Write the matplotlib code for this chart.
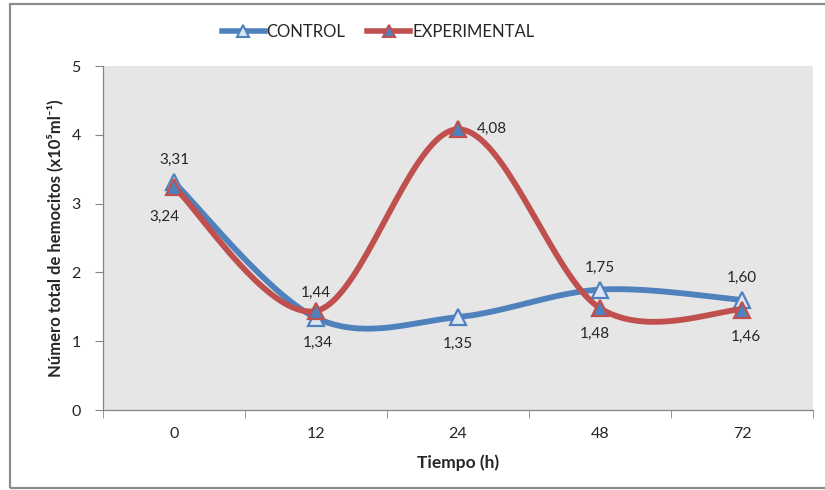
import numpy as np
import matplotlib
matplotlib.use("Agg")
import matplotlib.pyplot as plt
from matplotlib.lines import Line2D
from matplotlib.patches import Rectangle

categories = ["0", "12", "24", "48", "72"]
control = [3.31, 1.34, 1.35, 1.75, 1.60]
experimental = [3.24, 1.44, 4.08, 1.48, 1.46]
control_labels = ["3,31", "1,34", "1,35", "1,75", "1,60"]
experimental_labels = ["3,24", "1,44", "4,08", "1,48", "1,46"]
series_names = ["CONTROL", "EXPERIMENTAL"]

plt.rcParams['font.family'] = ['Lato', 'DejaVu Sans']

BLUE = '#4F81BD'
RED = '#C0504D'
TXT = '#262626'


def smooth(xs, ys, n=40):
    """Bezier-smoothed path through points (Excel-style smoothed line)."""
    P = np.column_stack([xs, ys]).astype(float)
    out = []
    m = len(P)
    for i in range(m - 1):
        p0 = P[i - 1] if i > 0 else P[i]
        p1 = P[i]
        p2 = P[i + 1]
        p3 = P[i + 2] if i + 2 < m else P[i + 1]
        c1 = p1 + (p2 - p0) / 6.0
        c2 = p2 - (p3 - p1) / 6.0
        t = np.linspace(0, 1, n)[:, None]
        seg = ((1 - t) ** 3) * p1 + 3 * ((1 - t) ** 2) * t * c1 + 3 * (1 - t) * t ** 2 * c2 + t ** 3 * p2
        out.append(seg if i == 0 else seg[1:])
    s = np.vstack(out)
    return s[:, 0], s[:, 1]


fig = plt.figure(figsize=(8.25, 4.9), dpi=100)
ax = fig.add_axes([103 / 825, 1 - 410 / 490, 710 / 825, 344 / 490])
ax.set_facecolor('#E6E6E6')

x = np.arange(len(categories))

sx, sy = smooth(x, control)
ax.plot(sx, sy, color=BLUE, lw=4.2, solid_capstyle='round', zorder=3)
ax.plot(x, control, ls='none', marker='^', ms=11, mfc='#DCE6F2', mec=BLUE, mew=1.6, zorder=4)

sx, sy = smooth(x, experimental)
ax.plot(sx, sy, color=RED, lw=4.2, solid_capstyle='round', zorder=5)
ax.plot(x, experimental, ls='none', marker='^', ms=11, mfc='#4F81BD', mec=RED, mew=1.6, zorder=6)

# data labels (offsets in pixels)
c_off = [(0, 22), (2, -25), (0, -27), (0, 22), (0, 22)]
e_off = [(-10, -30), (0, 18), (34, 0), (-5, -26), (4, -27)]
for i in range(len(x)):
    ax.annotate(control_labels[i], (x[i], control[i]), xytext=c_off[i], textcoords='offset pixels',
                ha='center', va='center', fontsize=11, color=TXT, zorder=8)
    ax.annotate(experimental_labels[i], (x[i], experimental[i]), xytext=e_off[i], textcoords='offset pixels',
                ha='center', va='center', fontsize=11, color=TXT, zorder=8)

ax.set_xlim(-0.5, len(categories) - 0.5)
ax.set_ylim(0, 5)
ax.set_yticks(range(0, 6))
ax.set_xticks(x)
ax.set_xticklabels(categories)
ax.set_xticks(np.arange(-0.5, len(categories)), minor=True)
ax.tick_params(axis='x', which='major', length=0, pad=12, labelsize=11.5, labelcolor=TXT)
ax.tick_params(axis='x', which='minor', length=6, color='#868686', direction='out')
ax.tick_params(axis='y', length=6, color='#868686', direction='out', pad=10, labelsize=11.5, labelcolor=TXT)

for s in ['top', 'right']:
    ax.spines[s].set_visible(False)
for s in ['left', 'bottom']:
    ax.spines[s].set_color('#868686')
    ax.spines[s].set_linewidth(0.9)

ax.set_xlabel('Tiempo (h)', fontsize=12.5, fontweight='bold', color=TXT, labelpad=10)
ax.set_ylabel('Número total de hemocitos (x10⁵ml⁻¹)', fontsize=12,
              fontweight='bold', color=TXT, labelpad=6)

handles = [
    Line2D([], [], color=BLUE, lw=4.0, marker='^', ms=9, mfc='#DCE6F2', mec=BLUE, mew=1.5),
    Line2D([], [], color=RED, lw=4.0, marker='^', ms=9, mfc='#4F81BD', mec=RED, mew=1.5),
]
fig.legend(handles, series_names, loc='center', bbox_to_anchor=(378 / 825, 1 - 32 / 490), ncol=2,
           frameon=False, fontsize=12, handlelength=2.6, handletextpad=0.1, columnspacing=1.3,
           labelcolor=TXT)

fig.patches.append(Rectangle((10 / 825, 2 / 490), 1.2, 484 / 490, transform=fig.transFigure,
                             fill=False, edgecolor='#8C8C8C', lw=1.6, zorder=0))

fig.savefig('out.png', dpi=100)
